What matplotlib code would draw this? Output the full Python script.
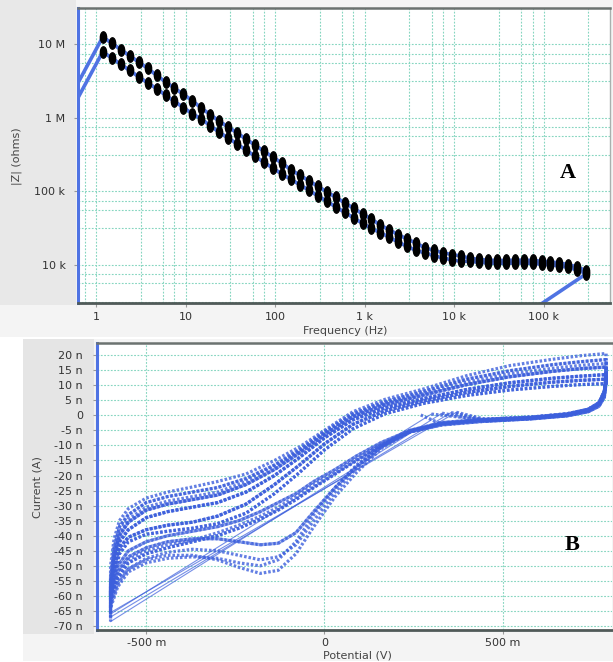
import matplotlib
matplotlib.use("Agg")
import matplotlib.pyplot as plt
from matplotlib.path import Path
from matplotlib.patches import Rectangle
from matplotlib.transforms import Affine2D
from matplotlib.ticker import FixedLocator, FixedFormatter, NullFormatter

# ---------------- panel A: |Z| vs frequency ----------------
freq_hz = [1.19, 1.50, 1.89, 2.38, 3.00, 3.78, 4.75, 5.98, 7.53, 9.48,
           11.9, 15.0, 18.9, 23.8, 30.0, 37.8, 47.5, 59.8, 75.3, 94.8,
           119, 150, 189, 238, 300, 378, 475, 598, 753, 948,
           1190, 1500, 1890, 2380, 3000, 3780, 4750, 5980, 7530, 9480,
           11900, 15000, 18900, 23800, 30000, 37800, 47500, 59800, 75300, 94800,
           119000, 150000, 189000, 238000, 300000]

z_upper = [1.26e7, 1.04e7, 8.51e6, 7.00e6, 5.75e6, 4.73e6, 3.80e6, 3.09e6, 2.54e6, 2.09e6,
           1.72e6, 1.36e6, 1.11e6, 9.02e5, 7.50e5, 6.24e5, 5.13e5, 4.27e5, 3.51e5, 2.92e5,
           2.43e5, 1.97e5, 1.66e5, 1.40e5, 1.17e5, 9.89e4, 8.32e4, 7.00e4, 5.89e4, 4.95e4,
           4.22e4, 3.47e4, 2.99e4, 2.57e4, 2.24e4, 1.97e4, 1.70e4, 1.57e4, 1.46e4, 1.38e4,
           1.32e4, 1.23e4, 1.19e4, 1.16e4, 1.15e4, 1.15e4, 1.16e4, 1.16e4, 1.15e4, 1.12e4,
           1.10e4, 1.06e4, 1.01e4, 9.33e3, 8.32e3]

z_lower = [7.94e6, 6.53e6, 5.37e6, 4.42e6, 3.63e6, 2.99e6, 2.51e6, 2.04e6, 1.68e6, 1.38e6,
           1.14e6, 9.66e5, 7.85e5, 6.38e5, 5.31e5, 4.42e5, 3.63e5, 3.02e5, 2.48e5, 2.07e5,
           1.72e5, 1.46e5, 1.23e5, 1.04e5, 8.71e4, 7.33e4, 6.17e4, 5.19e4, 4.37e4, 3.67e4,
           3.13e4, 2.75e4, 2.37e4, 2.04e4, 1.78e4, 1.57e4, 1.45e4, 1.33e4, 1.24e4, 1.17e4,
           1.12e4, 1.12e4, 1.08e4, 1.06e4, 1.05e4, 1.05e4, 1.06e4, 1.06e4, 1.05e4, 1.02e4,
           1.00e4, 9.66e3, 9.23e3, 8.51e3, 7.59e3]

# points off the plotted range that the trace runs to
lead_in_freq = 0.3
lead_in_upper = 5.6e5
lead_in_lower = 3.5e5
lead_out_freq = 2.5e4
lead_out_lower = 1.0e3

x_ticks_a = [1, 10, 100, 1e3, 1e4, 1e5]
x_labels_a = ["1", "10", "100", "1 k", "10 k", "100 k"]
y_ticks_a = [1e4, 1e5, 1e6, 1e7]
y_labels_a = ["10 k", "100 k", "1 M", "10 M"]

# ---------------- panel B: cyclic voltammetry ----------------
# upper branches (potential falling), potential in V, current in nA
v_down = [0.79, 0.72, 0.64, 0.52, 0.40, 0.28, 0.17, 0.08, 0.00, -0.07,
          -0.14, -0.22, -0.30, -0.37, -0.44, -0.50, -0.55, -0.575, -0.59, -0.60]
i_down_1 = [20.5, 19.8, 18.6, 16.5, 13.2, 8.8, 5.3, 1.2, -5.0, -10.5,
            -15.0, -19.5, -22.0, -23.8, -25.5, -27.5, -31.0, -35.0, -41.0, -50.0]
i_down_2 = [18.5, 17.8, 16.8, 14.8, 12.0, 8.0, 4.5, 0.5, -5.5, -11.5,
            -16.5, -21.0, -24.0, -25.5, -27.0, -29.0, -33.0, -37.0, -44.0, -54.0]
i_down_3 = [16.0, 15.5, 14.6, 12.8, 10.2, 6.8, 3.5, -0.5, -6.5, -12.5,
            -18.0, -23.0, -26.5, -28.0, -29.5, -31.5, -35.5, -40.0, -47.0, -57.0]
i_down_4 = [13.5, 13.0, 12.3, 10.8, 8.6, 5.6, 2.5, -1.5, -7.5, -14.0,
            -20.0, -25.5, -29.0, -30.5, -32.0, -34.0, -38.0, -42.0, -49.0, -59.0]
i_down_5 = [12.0, 11.6, 11.0, 9.6, 7.6, 4.8, 1.5, -3.0, -9.5, -16.5,
            -23.0, -29.5, -33.5, -35.5, -36.5, -38.0, -40.5, -44.0, -51.0, -61.0]
i_down_6 = [10.5, 10.2, 9.6, 8.4, 6.6, 4.0, 0.5, -4.5, -11.5, -19.0,
            -26.0, -32.5, -36.0, -37.5, -38.5, -39.5, -42.0, -46.0, -53.0, -63.0]
i_down_7 = [17.2, 16.6, 15.6, 13.8, 11.0, 7.3, 4.0, 0.0, -6.0, -12.0,
            -17.0, -22.0, -25.5, -27.0, -28.5, -30.5, -34.5, -38.5, -45.5, -56.0]

# lower branches (potential rising)
v_up = [-0.60, -0.58, -0.55, -0.50, -0.44, -0.37, -0.30, -0.24, -0.18, -0.13,
        -0.08, -0.03, 0.03, 0.09, 0.16, 0.24, 0.33, 0.45, 0.58, 0.68,
        0.74, 0.77, 0.785, 0.79]
i_up_1 = [-62, -55, -51, -48, -46.5, -46.5, -48, -50.5, -52.5, -51.5,
          -46, -37, -27, -19, -11, -5.5, -3.0, -1.8, -1.0, 0.0,
          1.5, 3.5, 7.0, 12.0]
i_up_2 = [-64, -57, -52, -49, -47.5, -47, -47.5, -49, -50, -48,
          -42, -33, -24, -16.5, -10, -5.0, -2.6, -1.5, -0.8, 0.3,
          2.0, 4.0, 8.0, 13.0]
i_up_3 = [-60, -52, -47, -44, -42, -41, -41, -42, -43, -42.5,
          -39, -32, -24, -17, -10.5, -5.5, -3.2, -2.0, -1.2, -0.2,
          1.2, 3.0, 6.0, 11.0]
i_up_4 = [-60, -54, -49, -46, -44, -42, -40, -37.5, -34.5, -31.5,
          -28, -24, -19.5, -15, -10, -5.5, -2.8, -1.6, -0.9, 0.2,
          1.6, 3.6, 7.0, 12.0]
i_up_5 = [-58, -50, -45, -42, -40, -38.5, -37, -35, -32, -29,
          -26, -22, -18, -13.5, -9, -5, -2.4, -1.3, -0.6, 0.5,
          2.0, 4.2, 8.0, 13.0]
i_up_6 = [-61, -53, -48, -45, -43, -41.5, -39, -36.5, -33.5, -30.5,
          -27, -23, -19, -14.5, -9.5, -5.2, -2.7, -1.5, -0.8, 0.3,
          1.8, 3.8, 7.5, 12.5]
i_up_7 = [-63, -56, -51, -47.5, -45.5, -44.5, -45, -46.5, -48, -47,
          -43, -35, -25.5, -17.5, -10.5, -5.2, -2.9, -1.7, -1.0, 0.1,
          1.7, 3.7, 7.5, 12.5]

# start of each run and its last point at the negative vertex
start_v = [0.27, 0.30, 0.33, 0.355, 0.37]
start_i = [0.1, 0.4, 0.7, 0.9, 1.0]
end_v = -0.60
end_i = [-66.0, -68.5, -67.0, -65.5, -67.5]

y_ticks_b = [20, 15, 10, 5, 0, -5, -10, -15, -20, -25, -30, -35, -40, -45, -50, -55, -60, -65, -70]
y_labels_b = ["20 n", "15 n", "10 n", "5 n", "0", "-5 n", "-10 n", "-15 n", "-20 n", "-25 n",
              "-30 n", "-35 n", "-40 n", "-45 n", "-50 n", "-55 n", "-60 n", "-65 n", "-70 n"]
x_ticks_b = [-0.5, 0.0, 0.5]
x_labels_b = ["-500 m", "0", "500 m"]

# ---------------- drawing ----------------
W, H = 613, 662
fig = plt.figure(figsize=(W / 100, H / 100), dpi=100)
fig.patch.set_facecolor("white")


def px_rect(x0, y0, x1, y1, color):
    fig.add_artist(Rectangle((x0 / W, 1 - y1 / H), (x1 - x0) / W, (y1 - y0) / H,
                             transform=fig.transFigure, facecolor=color,
                             edgecolor="none", zorder=0))


# instrument-software style grey panels
px_rect(0, 0, 613, 337, "#f4f4f4")
px_rect(0, 0, 76, 305, "#e8e8e8")
px_rect(23, 339, 613, 661, "#f4f4f4")
px_rect(23, 339, 94, 634, "#e5e5e5")

BLUE_A = "#4f73e3"
BLUE_B = "#3c5fdc"
GRID = "#86d6c0"
TXT = "#333333"
FS = 8.0
grid_kw = dict(color=GRID, linestyle=(0, (1.6, 1.4)), linewidth=0.8)


def style_axes(ax):
    ax.set_facecolor("white")
    ax.spines["left"].set_color(BLUE_A)
    ax.spines["left"].set_linewidth(2.2)
    ax.spines["bottom"].set_color("#505a58")
    ax.spines["bottom"].set_linewidth(2.0)
    ax.spines["top"].set_color("#6b7270")
    ax.spines["top"].set_linewidth(1.8)
    ax.tick_params(which="major", length=3, width=0.8, color="#999999",
                   labelsize=FS, labelcolor=TXT, pad=3)
    ax.tick_params(which="minor", length=0)
    ax.set_axisbelow(True)


# ---- A ----
axA = fig.add_axes([78 / W, 1 - 303.3 / H, 532 / W, 295 / H])
style_axes(axA)
axA.spines["right"].set_color("#a9b0ae")
axA.spines["right"].set_linewidth(1.0)
axA.set_xscale("log")
axA.set_yscale("log")
axA.set_xlim(0.63, 5.5e5)
axA.set_ylim(3.0e3, 3.1e7)

minor_mult = [3.16, 5.62, 7.5]
xmin_grid = [d * m for d in [0.1, 1, 10, 100, 1e3, 1e4, 1e5] for m in minor_mult]
ymin_grid = [d * m for d in [1e3, 1e4, 1e5, 1e6, 1e7] for m in minor_mult]
axA.xaxis.set_major_locator(FixedLocator(x_ticks_a))
axA.xaxis.set_major_formatter(FixedFormatter(x_labels_a))
axA.xaxis.set_minor_locator(FixedLocator(xmin_grid))
axA.xaxis.set_minor_formatter(NullFormatter())
axA.yaxis.set_major_locator(FixedLocator(y_ticks_a))
axA.yaxis.set_major_formatter(FixedFormatter(y_labels_a))
axA.yaxis.set_minor_locator(FixedLocator(ymin_grid))
axA.yaxis.set_minor_formatter(NullFormatter())
axA.tick_params(axis="y", pad=6)
axA.grid(True, which="both", **grid_kw)

axA.plot([lead_in_freq] + freq_hz, [lead_in_upper] + z_upper, color=BLUE_A, lw=2.6, zorder=2)
axA.plot([lead_in_freq] + freq_hz + [lead_out_freq], [lead_in_lower] + z_lower + [lead_out_lower],
         color=BLUE_A, lw=2.6, zorder=2)

blob = Path.unit_circle().transformed(Affine2D().scale(0.55, 1.0))
for z in (z_upper, z_lower):
    axA.plot(freq_hz, z, linestyle="none", marker=blob, markersize=8.2,
             color="black", mec="black", zorder=3)

axA.text(0.921, 0.442, "A", transform=axA.transAxes, ha="center", va="center",
         fontsize=16, fontweight="bold", family="Liberation Serif", color="black")
fig.text(17 / W, 1 - 156 / H, "|Z| (ohms)", rotation=90, ha="center", va="center",
         fontsize=FS, color="#444444")
fig.text(345 / W, 1 - 331 / H, "Frequency (Hz)", ha="center", va="center",
         fontsize=FS, color="#444444")

# ---- B ----
axB = fig.add_axes([97 / W, 1 - 630 / H, 515 / W, 286.7 / H])
style_axes(axB)
axB.spines["right"].set_visible(False)
axB.set_xlim(-0.638, 0.8065)
axB.set_ylim(-71.3, 23.9)
axB.xaxis.set_major_locator(FixedLocator(x_ticks_b))
axB.xaxis.set_major_formatter(FixedFormatter(x_labels_b))
axB.yaxis.set_major_locator(FixedLocator(y_ticks_b))
axB.yaxis.set_major_formatter(FixedFormatter(y_labels_b))
axB.tick_params(axis="y", pad=7)
axB.grid(True, which="major", **grid_kw)

down_sets = [i_down_1, i_down_2, i_down_3, i_down_4, i_down_5, i_down_6, i_down_7]
up_sets = [i_up_1, i_up_2, i_up_3, i_up_4, i_up_5, i_up_6, i_up_7]

# each run: start point, rest of the first positive sweep, then two full cycles
for k in range(len(start_v)):
    tail = [(v, c) for v, c in zip(v_up, up_sets[k]) if v > start_v[k] + 0.05]
    vs = ([start_v[k]] + [t[0] for t in tail]
          + v_down + v_up + v_down + v_up + v_down + [end_v])
    cs = ([start_i[k]] + [t[1] for t in tail]
          + down_sets[k] + up_sets[k] + down_sets[k + 1] + up_sets[k + 2]
          + down_sets[k + 2] + [end_i[k]])
    axB.plot(vs, cs, color=BLUE_B, lw=2.3, linestyle=(0, (0.8, 0.6)), alpha=0.8, zorder=2)

# straight jumps from the end of one run to the start of the next
for k in range(len(start_v) - 1):
    axB.plot([end_v, start_v[k + 1]], [end_i[k], start_i[k + 1]],
             color=BLUE_B, lw=0.8, alpha=0.7, zorder=2)

axB.text(0.922, 0.2965, "B", transform=axB.transAxes, ha="center", va="center",
         fontsize=16, fontweight="bold", family="Liberation Serif", color="black")
fig.text(37 / W, 1 - 487 / H, "Current (A)", rotation=90, ha="center", va="center",
         fontsize=FS, color="#444444")
fig.text(357 / W, 1 - 656 / H, "Potential (V)", ha="center", va="center",
         fontsize=FS, color="#444444")

fig.savefig("out.png", dpi=100)
